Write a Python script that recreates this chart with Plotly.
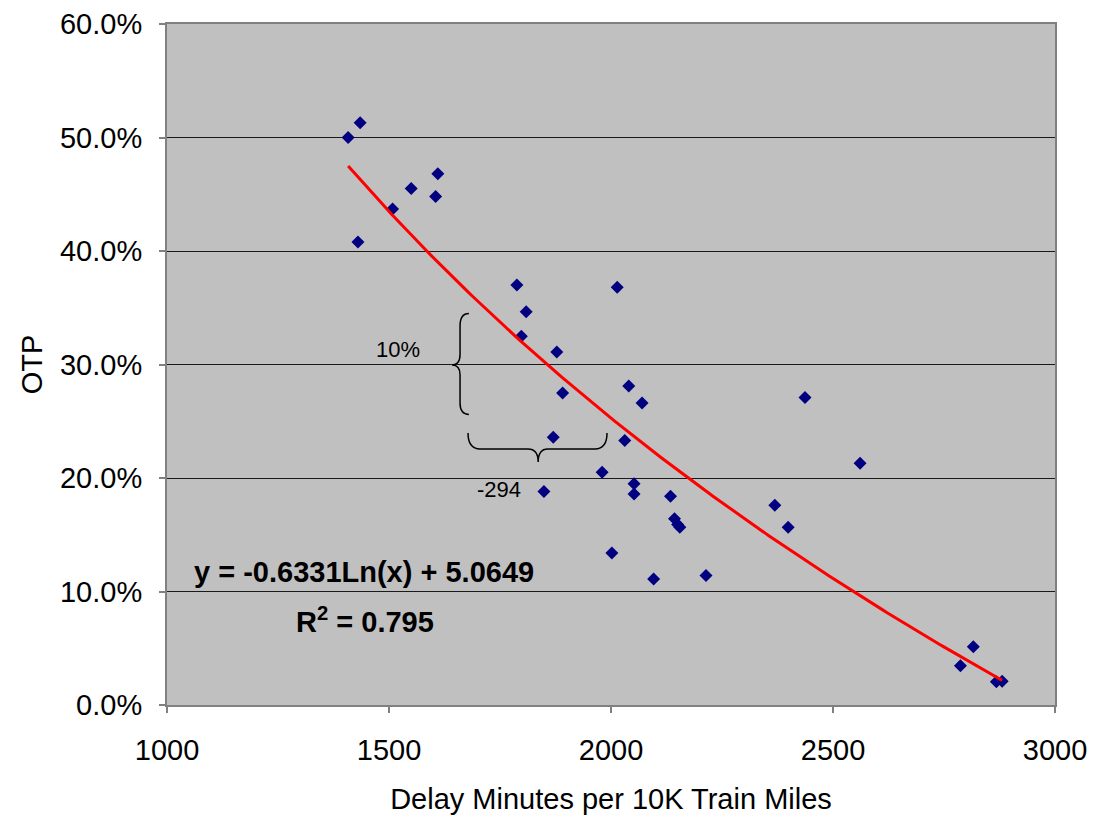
import numpy as np
import plotly.graph_objects as go

# Delay minutes per 10K train miles (x) and OTP (y, fraction)
delay_minutes = [1435, 1408, 1610, 1550, 1605, 1508, 1430, 1788, 2014, 1809, 1798,
                 1878, 2040, 1891, 2070, 2437, 1870, 2031, 2561, 1980, 1849, 2052,
                 2052, 2134, 2369, 2143, 2150, 2155, 2399, 2002, 2214, 2096, 2816,
                 2787, 2868, 2881]
otp = [0.513, 0.500, 0.468, 0.455, 0.448, 0.437, 0.408, 0.370, 0.368, 0.3465, 0.325,
       0.311, 0.281, 0.275, 0.266, 0.271, 0.236, 0.233, 0.213, 0.205, 0.188, 0.195,
       0.186, 0.184, 0.176, 0.164, 0.159, 0.1565, 0.1565, 0.134, 0.114, 0.111, 0.0514,
       0.0346, 0.0205, 0.021]

# Logarithmic trendline coefficients (as printed on chart)
trend_a = -0.6331
trend_b = 5.0649
r_squared = 0.795

x_ticks = [1000, 1500, 2000, 2500, 3000]
y_ticks = [0.0, 0.1, 0.2, 0.3, 0.4, 0.5, 0.6]

FONT = "Liberation Sans, Arial, sans-serif"

tx = np.linspace(min(delay_minutes), max(delay_minutes), 200)
ty = trend_a * np.log(tx) + trend_b

fig = go.Figure()
fig.add_trace(go.Scatter(
    x=delay_minutes, y=otp, mode="markers",
    marker=dict(symbol="diamond", size=10, color="#000080", line=dict(width=0)),
    showlegend=False, hoverinfo="skip"))
fig.add_trace(go.Scatter(
    x=tx, y=ty, mode="lines", line=dict(color="#FF0000", width=3),
    showlegend=False, hoverinfo="skip"))

# Braces (annotation shapes)
vbrace = ("M 1680,0.345 Q 1660,0.345 1660,0.334 L 1660,0.309 "
          "Q 1660,0.2996 1642,0.2996 Q 1660,0.2996 1660,0.291 "
          "L 1660,0.266 Q 1660,0.256 1680,0.256")
hbrace = ("M 1678,0.2396 Q 1678,0.2256 1705,0.2256 L 1813,0.2256 "
          "Q 1836,0.2256 1836,0.2141 Q 1836,0.2256 1858,0.2256 "
          "L 1964,0.2256 Q 1991,0.2256 1991,0.2396")
for p in (vbrace, hbrace):
    fig.add_shape(type="path", path=p, xref="x", yref="y",
                  line=dict(color="#000000", width=1.5))

fig.add_annotation(x=1520, y=0.313, text="10%", showarrow=False,
                   font=dict(family=FONT, size=22, color="#000000"))
fig.add_annotation(x=1748, y=0.190, text="-294", showarrow=False,
                   font=dict(family=FONT, size=22, color="#000000"))
fig.add_annotation(x=1444, y=0.1172,
                   text="<b>y = %.4fLn(x) + %.4f</b>" % (trend_a, trend_b),
                   showarrow=False, font=dict(family=FONT, size=29, color="#000000"))
fig.add_annotation(x=1446, y=0.0749,
                   text="<b>R<sup>2</sup> = %.3f</b>" % r_squared,
                   showarrow=False, font=dict(family=FONT, size=29, color="#000000"))

fig.update_layout(
    width=1090, height=807,
    margin=dict(l=159, r=43, t=16, b=110, autoexpand=False),
    paper_bgcolor="#FFFFFF", plot_bgcolor="#C0C0C0",
    font=dict(family=FONT, size=29, color="#000000"),
)
fig.update_xaxes(
    range=[1000, 3000], tickvals=x_ticks, showgrid=False, zeroline=False,
    ticks="outside", ticklen=6, tickcolor="#808080", tickwidth=2,
    showline=True, linecolor="#808080", linewidth=2, mirror=True,
    ticklabelstandoff=12, automargin=False,
    title=dict(text="Delay Minutes per 10K Train Miles", standoff=27,
               font=dict(family=FONT, size=29)),
    tickfont=dict(family=FONT, size=29),
)
fig.update_yaxes(
    range=[0, 0.6], tickvals=y_ticks, tickformat=".1%",
    showgrid=True, gridcolor="#1a1a1a", gridwidth=1, zeroline=False,
    ticks="outside", ticklen=6, tickcolor="#808080", tickwidth=2,
    showline=True, linecolor="#808080", linewidth=2, mirror=True,
    ticklabelstandoff=11, automargin=False,
    title=dict(text="OTP", standoff=9, font=dict(family=FONT, size=29)),
    tickfont=dict(family=FONT, size=29),
)

fig.write_html("out.html")
